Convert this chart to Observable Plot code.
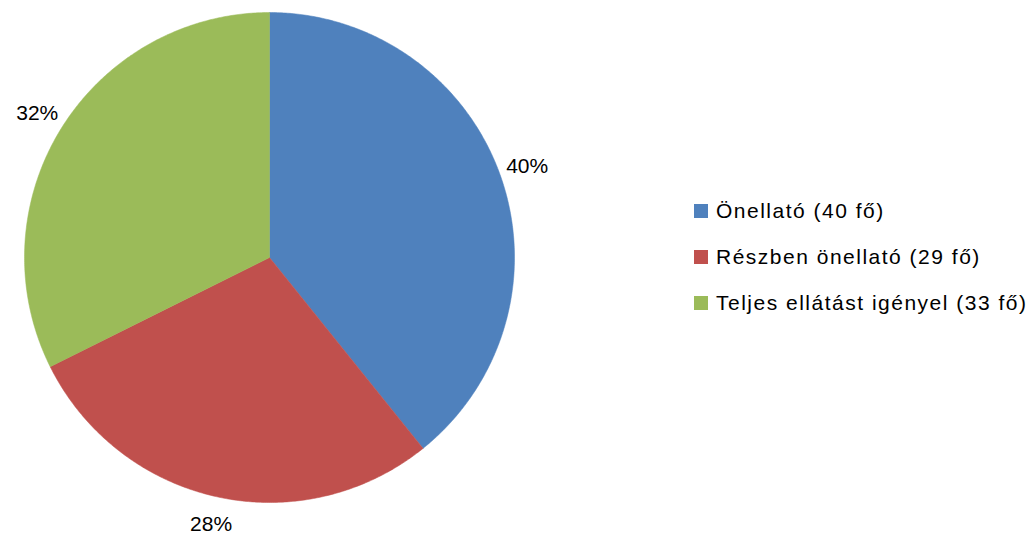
<!DOCTYPE html>
<html>
<head>
<meta charset="utf-8">
<script src="https://cdn.jsdelivr.net/npm/d3@7"></script>
<script src="https://cdn.jsdelivr.net/npm/@observablehq/plot@0.6"></script>
<style>
  html, body { margin: 0; padding: 0; background: #fff; }
  #wrap { position: relative; width: 1035px; height: 537px; font-family: "Liberation Sans", Arial, sans-serif; }
  #legend { position: absolute; left: 694px; top: 188px; }
  .item { display: flex; align-items: center; height: 46px; font-size: 21px; letter-spacing: 1.5px; color: #000; white-space: nowrap; }
  .sw { width: 14px; height: 14px; margin-right: 8px; flex: none; }
</style>
</head>
<body>
<div id="wrap"><div id="chart"></div><div id="legend"></div></div>
<script>
// Data
const categories = ["Önellató (40 fő)", "Részben önellató (29 fő)", "Teljes ellátást igényel (33 fő)"];
const values = [40, 29, 33];
const pctLabels = ["40%", "28%", "32%"];
const colors = ["#4F81BD", "#C0504D", "#9BBB59"];

// Layout (pixels)
const W = 1035, H = 537, cx = 269, cy = 257, R = 245, labelR = 1.115;

const pie = d3.pie().sort(null).value(d => d.value);
const arcs = pie(categories.map((c, i) => ({cat: c, value: values[i], label: pctLabels[i]})));

// Build polygon points (unit radius) for each slice from the pie angles
const pts = [];
for (const a of arcs) {
  const c = a.data.cat;
  pts.push({cat: c, x: 0, y: 0});
  const n = Math.max(8, Math.ceil((a.endAngle - a.startAngle) * 120));
  for (let k = 0; k <= n; k++) {
    const t = a.startAngle + (a.endAngle - a.startAngle) * k / n;
    pts.push({cat: c, x: Math.sin(t), y: Math.cos(t)});
  }
  pts.push({cat: c, x: 0, y: 0});
}
const labels = arcs.map(a => {
  const m = (a.startAngle + a.endAngle) / 2;
  return {label: a.data.label, x: labelR * Math.sin(m), y: labelR * Math.cos(m)};
});

const chart = Plot.plot({
  width: W, height: H,
  margin: 0,
  style: {fontFamily: "Liberation Sans, Arial, sans-serif", background: "#fff"},
  x: {domain: [-cx / R, (W - cx) / R], axis: null},
  y: {domain: [-(H - cy) / R, cy / R], axis: null},
  color: {domain: categories, range: colors},
  marks: [
    Plot.line(pts, {x: "x", y: "y", z: "cat", fill: "cat", stroke: "cat", strokeWidth: 0.5, curve: "linear"}),
    Plot.text(labels, {x: "x", y: "y", text: "label", fontSize: 21, fill: "#000", textAnchor: "middle", lineAnchor: "middle"})
  ]
});
document.getElementById("chart").appendChild(chart);

const leg = document.getElementById("legend");
categories.forEach((c, i) => {
  const it = document.createElement("div");
  it.className = "item";
  it.innerHTML = `<span class="sw" style="background:${colors[i]}"></span><span>${c}</span>`;
  leg.appendChild(it);
});
</script>
</body>
</html>
